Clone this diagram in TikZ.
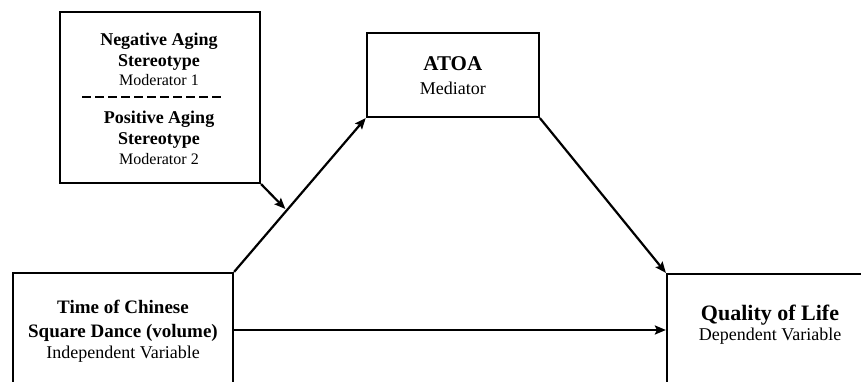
\documentclass[tikz,border=0pt]{standalone}
\usepackage{fontspec}
\setmainfont{Liberation Serif}
\usetikzlibrary{arrows.meta,calc}
\begin{document}
\begin{tikzpicture}[x=1pt,y=1pt,
  box/.style={draw=black,line width=2.2pt,rectangle,inner sep=0pt},
  txt/.style={align=center,inner sep=0pt},
  arr/.style={line width=2.2pt,-{Stealth[length=11pt,width=9pt,inset=2pt]}},
  sep/.style={line width=2pt,dash pattern=on 9pt off 4pt}]
\useasboundingbox (0,0) rectangle (861,381);
\clip (0,0) rectangle (861,381);
\fill[white] (0,0) rectangle (861,381);
% moderator box
\node[box,minimum width=200,minimum height=171] (mod) at (160,283.5) {};
\node[txt,font=\fontsize{18}{21}\selectfont] (neg) at (159,322) {\textbf{Negative Aging}\\\textbf{Stereotype}\\[-2pt]{\fontsize{16}{19}\selectfont Moderator 1}};
\node[txt,font=\fontsize{18}{21}\selectfont] (pos) at (159,243) {\textbf{Positive Aging}\\\textbf{Stereotype}\\[-1pt]{\fontsize{16}{19}\selectfont Moderator 2}};
\coordinate (sepL) at (82,284);
\coordinate (sepR) at (224,284);
\draw[sep] (sepL) -- (sepR);
% mediator
\node[box,minimum width=172,minimum height=84] (atoa) at (452.8,306) {};
\node[txt,font=\fontsize{18}{24}\selectfont] (atoat) at (452.8,305) {{\fontsize{21}{24}\selectfont\bfseries ATOA}\\Mediator};
% independent variable
\node[box,minimum width=220,minimum height=118] (iv) at (123,49) {};
\node[txt,font=\fontsize{19}{24}\selectfont] (ivt) at (123,50) {\textbf{Time of Chinese}\\\textbf{Square Dance (volume)}\\[-3pt]{\fontsize{18}{21}\selectfont Independent Variable}};
% dependent variable
\node[box,minimum width=260,minimum height=140] (qol) at (797,37) {};
\node[txt,font=\fontsize{18}{20}\selectfont] (qolt) at (770,56) {{\fontsize{22}{22}\selectfont\bfseries Quality of Life}\\Dependent Variable};
% connectors
\draw[arr] (iv.north east) -- (atoa.south west);
\draw[arr] (atoa.south east) -- (qol.north west);
\draw[arr] ([yshift=2pt]iv.east) -- ([yshift=2pt]iv.east -| qol.west);
\coordinate (modtip) at ($(iv.north east)!0.40!(atoa.south west)$);
\draw[arr,shorten >=2pt] (mod.south east) -- (modtip);
\end{tikzpicture}
\end{document}
